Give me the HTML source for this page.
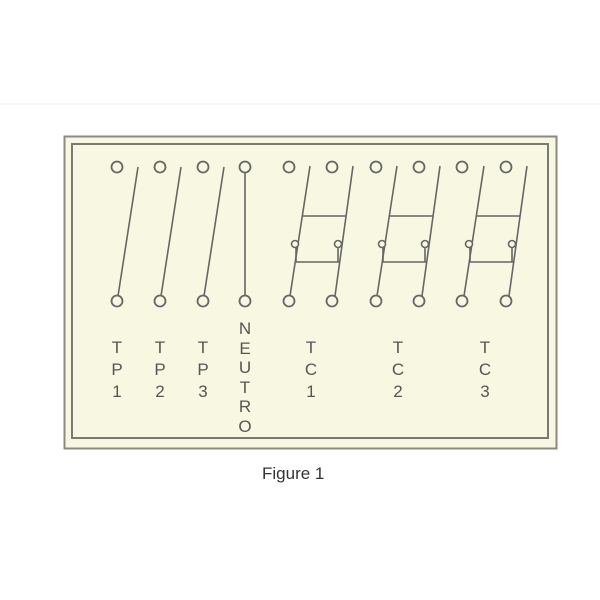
<!DOCTYPE html>
<html><head><style>
html,body{margin:0;padding:0;background:#fff;width:600px;height:600px;overflow:hidden}
</style></head><body>
<svg width="600" height="600" xmlns="http://www.w3.org/2000/svg" font-family="Liberation Sans, sans-serif">
<line x1="0" y1="104" x2="600" y2="104" stroke="#f0f0f0" stroke-width="1"/>
<rect x="64.5" y="136.5" width="492" height="312" fill="#f8f8e2" stroke="#8a8a80" stroke-width="2"/>
<rect x="72" y="144" width="476" height="294" fill="none" stroke="#7a7a72" stroke-width="2"/>
<g stroke="#666" stroke-width="1.6" fill="#f8f8e2">
<line x1="138" y1="167" x2="118" y2="296"/>
<line x1="181" y1="167" x2="161" y2="296"/>
<line x1="224" y1="167" x2="204" y2="296"/>
<line x1="245" y1="172" x2="245" y2="296"/>
<g id="tc">
<line x1="310" y1="166" x2="290" y2="296"/>
<line x1="353" y1="166" x2="335" y2="296"/>
<line x1="303" y1="216" x2="346" y2="216"/>
<line x1="296" y1="262" x2="339" y2="262"/>
<line x1="296" y1="248" x2="296" y2="262"/>
<line x1="338" y1="248" x2="338" y2="262"/>
<circle cx="295" cy="244" r="3.5"/>
<circle cx="338" cy="244" r="3.5"/>
</g>
<use href="#tc" x="87"/>
<use href="#tc" x="174"/>
<g stroke-width="1.8">
<circle cx="117" cy="167" r="5.5"/><circle cx="160" cy="167" r="5.5"/><circle cx="203" cy="167" r="5.5"/><circle cx="245" cy="167" r="5.5"/>
<circle cx="289" cy="167" r="5.5"/><circle cx="332" cy="167" r="5.5"/><circle cx="376" cy="167" r="5.5"/><circle cx="419" cy="167" r="5.5"/><circle cx="462" cy="167" r="5.5"/><circle cx="506" cy="167" r="5.5"/>
<circle cx="117" cy="301" r="5.5"/><circle cx="160" cy="301" r="5.5"/><circle cx="203" cy="301" r="5.5"/><circle cx="245" cy="301" r="5.5"/>
<circle cx="289" cy="301" r="5.5"/><circle cx="332" cy="301" r="5.5"/><circle cx="376" cy="301" r="5.5"/><circle cx="419" cy="301" r="5.5"/><circle cx="462" cy="301" r="5.5"/><circle cx="506" cy="301" r="5.5"/>
</g>
</g>
<g fill="#555" font-size="17" text-anchor="middle">
<g transform="translate(0,0)">
<text x="117" y="353">T</text><text x="117" y="375">P</text><text x="117" y="397">1</text>
<text x="160" y="353">T</text><text x="160" y="375">P</text><text x="160" y="397">2</text>
<text x="203" y="353">T</text><text x="203" y="375">P</text><text x="203" y="397">3</text>
<text x="245" y="334">N</text><text x="245" y="354">E</text><text x="245" y="373">U</text><text x="245" y="393">T</text><text x="245" y="412">R</text><text x="245" y="432">O</text>
<text x="311" y="353">T</text><text x="311" y="375">C</text><text x="311" y="397">1</text>
<text x="398" y="353">T</text><text x="398" y="375">C</text><text x="398" y="397">2</text>
<text x="485" y="353">T</text><text x="485" y="375">C</text><text x="485" y="397">3</text>
</g>
</g>
<text x="262" y="479" font-size="17" fill="#333">Figure 1</text>
</svg>
</body></html>
